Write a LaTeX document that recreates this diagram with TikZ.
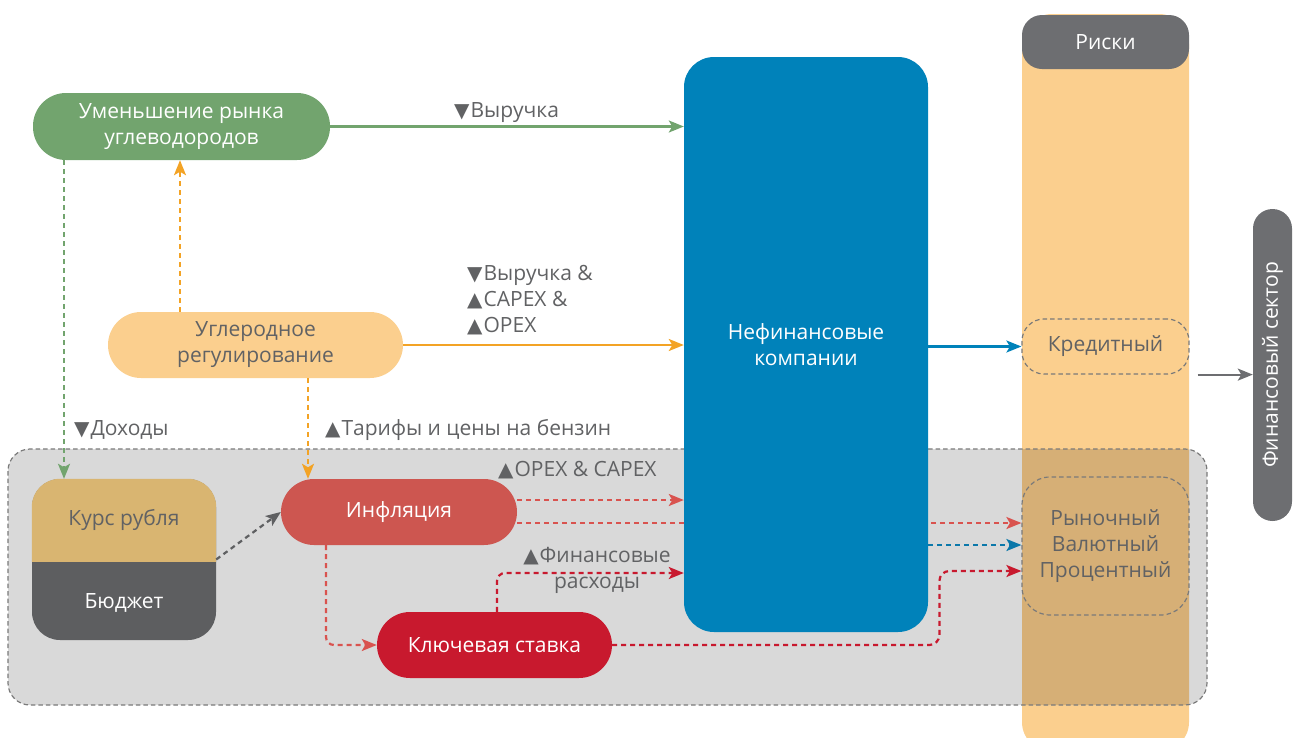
\documentclass[tikz,border=0pt]{standalone}
\usepackage{fontspec}
\setmainfont{Open Sans}
\newfontfamily\symf{DejaVu Sans}
\usetikzlibrary{arrows.meta}
\newcommand{\tup}{{\symf\fontsize{20}{20}\selectfont ▲}\hspace{1pt}}
\newcommand{\tdn}{{\symf\fontsize{20}{20}\selectfont ▼}\hspace{1pt}}
\definecolor{cgreen}{HTML}{72A46E}
\definecolor{corange}{HTML}{FBCF8E}
\definecolor{corangeD}{HTML}{F3A325}
\definecolor{cblue}{HTML}{0082BA}
\definecolor{cbluel}{HTML}{0B78AA}
\definecolor{chead}{HTML}{6D6E71}
\definecolor{ctan}{HTML}{D9B571}
\definecolor{cbudget}{HTML}{5D5E60}
\definecolor{cinfl}{HTML}{CD5650}
\definecolor{cinflA}{HTML}{D9534F}
\definecolor{ckey}{HTML}{C8192E}
\definecolor{cregion}{HTML}{D9D9D9}
\definecolor{coverlap}{HTML}{D6AF76}
\definecolor{dashgray}{HTML}{7A7A7A}
\definecolor{cdiag}{HTML}{5F6062}
\definecolor{txtgray}{HTML}{616264}
\begin{document}
\begin{tikzpicture}[x=1pt,y=-1pt,
  font=\fontsize{21}{26}\selectfont,
  arr/.style={line width=2.2pt,-{Stealth[length=15pt,width=12pt,inset=3.5pt]}},
  dsh/.style={dash pattern=on 5pt off 4pt},
  boxdash/.style={draw=dashgray,line width=1.2pt,dash pattern=on 4.5pt off 3pt},
  pill/.style={rectangle,rounded corners=#1,inner sep=0pt,align=center},
  lbl/.style={text=txtgray,inner sep=0pt,anchor=west,align=left},
]
\useasboundingbox (0,0) rectangle (1293,737);
% risk column and grey region
\fill[corange,rounded corners=30pt] (1022,14) rectangle (1189,752);
\fill[cregion,rounded corners=22pt] (8,449) rectangle (1207,705);
\begin{scope}
  \clip[rounded corners=22pt] (8,449) rectangle (1207,705);
  \fill[coverlap,rounded corners=30pt] (1022,14) rectangle (1189,752);
\end{scope}
\draw[boxdash,rounded corners=22pt] (8,449) rectangle (1207,705);

\node[pill=20pt,fill=chead,text=white,minimum width=167pt,minimum height=54pt] (risk) at (1105.5,42) {Риски};
\node[pill=22pt,boxdash,text=txtgray,minimum width=167pt,minimum height=55pt] (cred) at (1105.5,346.5) {Кредитный};
\node[pill=28pt,boxdash,text=txtgray,minimum width=167pt,minimum height=138pt] (mkt) at (1105.5,546) {Рыночный\\Валютный\\Процентный};

% nodes
\node[pill=33pt,fill=cgreen,text=white,minimum width=297pt,minimum height=67pt] (hc) at (181.5,126.5) {Уменьшение рынка\\углеводородов};
\node[pill=33pt,fill=corange,text=txtgray,minimum width=295pt,minimum height=66pt] (reg) at (255.5,345) {Углеродное\\регулирование};
\node[pill=33pt,fill=cinfl,text=white,minimum width=236pt,minimum height=66pt] (infl) at (399,512) {Инфляция};
\node[pill=33pt,fill=ckey,text=white,minimum width=235pt,minimum height=66pt] (key) at (494.5,645) {Ключевая ставка};
\node[pill=28pt,fill=cbudget,minimum width=184pt,minimum height=161pt] (kb) at (124,559.5) {};
\begin{scope}
  \clip (20,470) rectangle (230,561);
  \fill[ctan,rounded corners=28pt] (kb.north west) rectangle (kb.south east);
\end{scope}
\node[text=txtgray] (kurs) at (124,520) {Курс рубля};
\node[text=white] (budg) at (124,603) {Бюджет};
\node[pill=19.5pt,fill=chead,text=white,minimum width=39pt,minimum height=312pt] (fin) at (1272.5,365) {\rotatebox{90}{Финансовый сектор}};

% line from inflation passing behind the blue box
\path ([yshift=-11pt]infl.east) coordinate (i2);
\draw[arr,dsh,cinflA] (i2) -- (i2 -| mkt.west);

\node[pill=30pt,fill=cblue,text=white,minimum width=244pt,minimum height=575pt] (nfc) at (806,344.5) {Нефинансовые\\компании};

% connectors
\draw[arr,cgreen] (hc.east) -- (hc.east -| nfc.west);
\node[lbl] (l1) at (454,113) {\tdn Выручка};
\draw[arr,corangeD] (reg.east) -- (reg.east -| nfc.west);
\node[lbl] (l2) at (467,300) {\tdn Выручка \&\\\tup CAPEX \&\\\tup OPEX};
\draw[arr,dsh,corangeD] ([xshift=-75.5pt]reg.north) -- ([xshift=-1.5pt]hc.south);
\draw[arr,dsh,cgreen] ([xshift=-117.5pt]hc.south) -- ([xshift=-60pt]kb.north);
\node[lbl] (l3) at (74,430) {\tdn Доходы};
\draw[arr,dsh,corangeD] ([xshift=52.5pt]reg.south) -- ([xshift=-91pt]infl.north);
\node[lbl] (l4) at (325,430) {\tup Тарифы и цены на бензин};
\draw[arr,dsh,cdiag] (kb.east) -- (infl.west);
\path ([yshift=12pt]infl.east) coordinate (i1);
\draw[arr,dsh,cinflA] (i1) -- (i1 -| nfc.west);
\node[lbl] (l5) at (498,470) {\tup OPEX \& CAPEX};
\draw[arr,dsh,cinflA,rounded corners=8pt] ([xshift=-73pt]infl.south) |- (key.west);
\path ([yshift=-228.5pt]nfc.west) coordinate (n3);
\draw[arr,dsh,ckey,rounded corners=8pt] ([xshift=2.5pt]key.north) |- (n3);
\node[text=txtgray,align=center,inner sep=0pt] (l6) at (597,570) {\tup Финансовые\\расходы};
\path ([yshift=-25pt]mkt.west) coordinate (m3);
\draw[arr,dsh,ckey,rounded corners=10pt] (key.east) -| ([xshift=-82pt]m3) -- (m3);
\path ([yshift=-200.5pt]nfc.east) coordinate (b2);
\draw[arr,dsh,cbluel] (b2) -- (b2 -| mkt.west);
\draw[arr,cblue] (nfc.east |- cred.west) -- (cred.west);
\path ([xshift=8pt]cred.south east) coordinate (c2);
\draw[arr,chead] (c2) -- (c2 -| fin.west);
\end{tikzpicture}
\end{document}
